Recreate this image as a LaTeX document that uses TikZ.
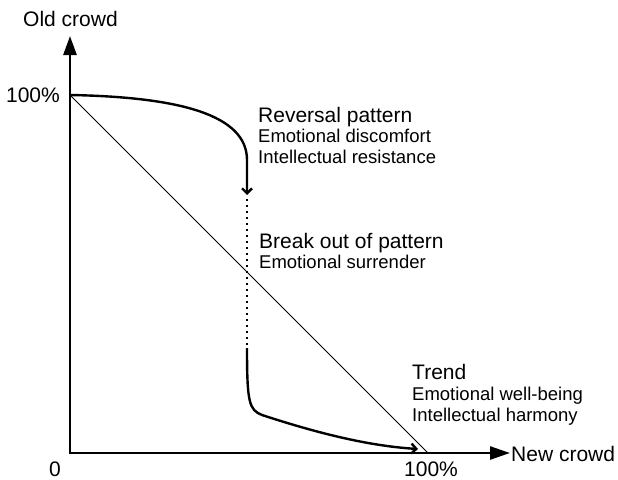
\documentclass[tikz,border=0pt]{standalone}
\usepackage{fontspec}
\setmainfont{Liberation Sans}
\usetikzlibrary{arrows.meta}
\begin{document}
\begin{tikzpicture}[x=1pt,y=-1pt,
  big/.style={inner sep=0pt,anchor=base west,font=\fontsize{21}{24}\selectfont},
  small/.style={inner sep=0pt,anchor=base west,font=\fontsize{18.5}{22}\selectfont},
  axis/.style={line width=2.6pt,line join=miter,{Triangle[length=19pt,width=13pt]}-{Triangle[length=20pt,width=13pt]}},
  curve/.style={line width=2.4pt,-{Straight Barb[length=5pt,width=10pt]}},
  dots/.style={line width=2.4pt,dash pattern=on 2.4pt off 3.6pt}]
\useasboundingbox (0,0) rectangle (618,479);
\coordinate (O) at (70,453);
\coordinate (Ytip) at (70,36);
\coordinate (Xtip) at (510,453);
\coordinate (Y100) at (70,95);
\coordinate (X100) at (428,453);
\coordinate (A) at (247,195);
\coordinate (B) at (247,348);
\coordinate (C) at (418,449);
% axes
\draw[axis] (Ytip) -- (O) -- (Xtip);
% diagonal
\draw[line width=1pt] (Y100) -- (X100);
% upper curve
\draw[curve] (Y100) .. controls (180,97) and (247,115) .. (247,160) -- (A);
% dotted part
\draw[dots] (247,199) -- (B);
% lower curve
\draw[curve] (B) .. controls (247,402) and (249,410) .. (262,415) .. controls (320,434) and (370,446) .. (C);
% labels
\node[big] (oc) at (23,27) {Old crowd};
\node[big,anchor=base east] (y100) at (60,102) {100\%};
\node[big,anchor=base] (zero) at (55,476) {0};
\node[big,anchor=base] (x100) at (431,476) {100\%};
\node[big,anchor=base west] (nc) at (511,461) {New crowd};
\node[big] (r1) at (258,122) {Reversal pattern};
\node[small] (r2) at (258,142) {Emotional discomfort};
\node[small] (r3) at (258,163) {Intellectual resistance};
\node[big] (b1) at (259,248) {Break out of pattern};
\node[small] (b2) at (259,268) {Emotional surrender};
\node[big] (t1) at (412,379) {Trend};
\node[small] (t2) at (412,400) {Emotional well-being};
\node[small] (t3) at (412,421) {Intellectual harmony};
\end{tikzpicture}
\end{document}
